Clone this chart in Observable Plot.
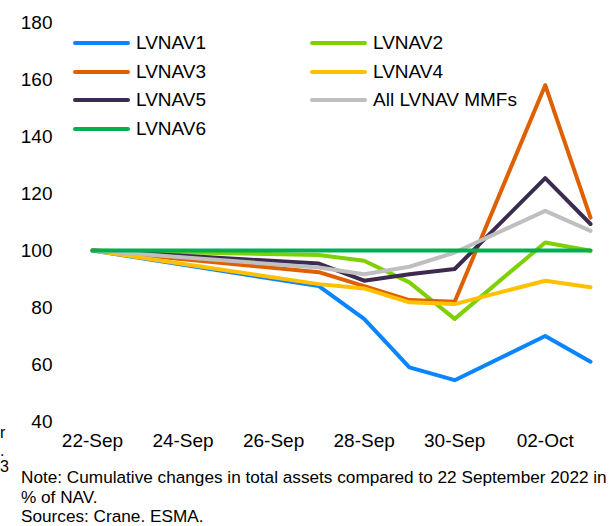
<!DOCTYPE html>
<html><head><meta charset="utf-8">
<script src="https://cdn.jsdelivr.net/npm/d3@7"></script>
<script src="https://cdn.jsdelivr.net/npm/@observablehq/plot@0.6"></script>
<style>
body{margin:0;background:#fff;font-family:Arial,"Liberation Sans",sans-serif;color:#000;position:relative;overflow:hidden;}
#wrap{position:relative;width:615px;}
.leg{position:absolute;height:28px;line-height:28px;font-size:19px;white-space:nowrap;display:flex;align-items:center;}
.sw{display:inline-block;width:57px;height:4px;border-radius:2px;margin-right:6px;}
#note{font-size:17.2px;line-height:19.5px;padding-left:21px;margin-top:10px;white-space:nowrap;}
.frag{position:absolute;font-size:16px;line-height:16px;}
</style></head>
<body>
<div id="wrap"><div id="chart"></div></div>
<div id="note">Note: Cumulative changes in total assets compared to 22 September 2022 in<br>% of NAV.<br>Sources: Crane. ESMA.</div>
<span class="frag" style="left:0px;top:425px">r</span>
<span class="frag" style="left:0px;top:443px">.</span>
<span class="frag" style="left:0px;top:459px">3</span>
<script>
const dates = ["2022-09-22","2022-09-27","2022-09-28","2022-09-29","2022-09-30","2022-10-02","2022-10-03"];
const seriesNames = ["LVNAV1","LVNAV2","LVNAV3","LVNAV4","LVNAV5","All LVNAV MMFs","LVNAV6"];
const LVNAV1 = [100, 87.5, 76.0, 59.0, 54.5, 70.0, 61.0];
const LVNAV2 = [100, 98.4, 96.4, 88.8, 76.0, 102.8, 99.9];
const LVNAV3 = [100, 92.4, 87.5, 82.6, 82.0, 158.0, 111.5];
const LVNAV4 = [100, 88.2, 86.7, 81.8, 81.2, 89.4, 87.1];
const LVNAV5 = [100, 95.4, 89.4, 91.7, 93.5, 125.4, 109.3];
const AllLVNAV = [100, 94.0, 91.7, 94.3, 99.3, 113.9, 106.9];
const LVNAV6 = [100, 100, 100, 100, 100, 100, 100];
const colors = ["#0a84ff","#7ed000","#df6000","#ffc000","#3d2b4f","#bfbfbf","#00b050"];
const yTicks = [40, 60, 80, 100, 120, 140, 160, 180];
const xTickDates = ["2022-09-22","2022-09-24","2022-09-26","2022-09-28","2022-09-30","2022-10-02"];

const values = [LVNAV1, LVNAV2, LVNAV3, LVNAV4, LVNAV5, AllLVNAV, LVNAV6];
const parse = d3.utcParse("%Y-%m-%d");
const rows = [];
seriesNames.forEach((s, i) => dates.forEach((d, j) => rows.push({series: s, date: parse(d), value: values[i][j]})));

const chart = Plot.plot({
  width: 615, height: 458,
  marginLeft: 92, marginRight: 25, marginTop: 22, marginBottom: 37,
  style: {fontFamily: "Arial, 'Liberation Sans', sans-serif", fontSize: "19px", color: "#000", background: "#fff"},
  x: {type: "utc", domain: [parse(dates[0]), parse(dates[dates.length-1])]},
  y: {domain: [40, 180]},
  color: {domain: seriesNames, range: colors},
  marks: [
    Plot.axisY({ticks: yTicks, tickSize: 0, tickPadding: 40, label: null, fontSize: 19}),
    Plot.axisX({ticks: xTickDates.map(parse), tickFormat: d3.utcFormat("%d-%b"), tickSize: 0, tickPadding: 12, label: null, fontSize: 19}),
    ...seriesNames.map(s => Plot.line(rows.filter(r => r.series === s), {x: "date", y: "value", stroke: "series", strokeWidth: 4, strokeLinejoin: "round"}))
  ]
});
document.getElementById("chart").appendChild(chart);

// legend overlay (row-wise, two columns)
const wrap = document.getElementById("wrap");
seriesNames.forEach((s, i) => {
  const col = i % 2, row = Math.floor(i / 2);
  const el = document.createElement("div");
  el.className = "leg";
  el.style.left = (73 + col * 237) + "px";
  el.style.top = (29 + row * 28.7) + "px";
  el.innerHTML = `<span class="sw" style="background:${colors[i]}"></span>${s}`;
  wrap.appendChild(el);
});
</script>
</body></html>
